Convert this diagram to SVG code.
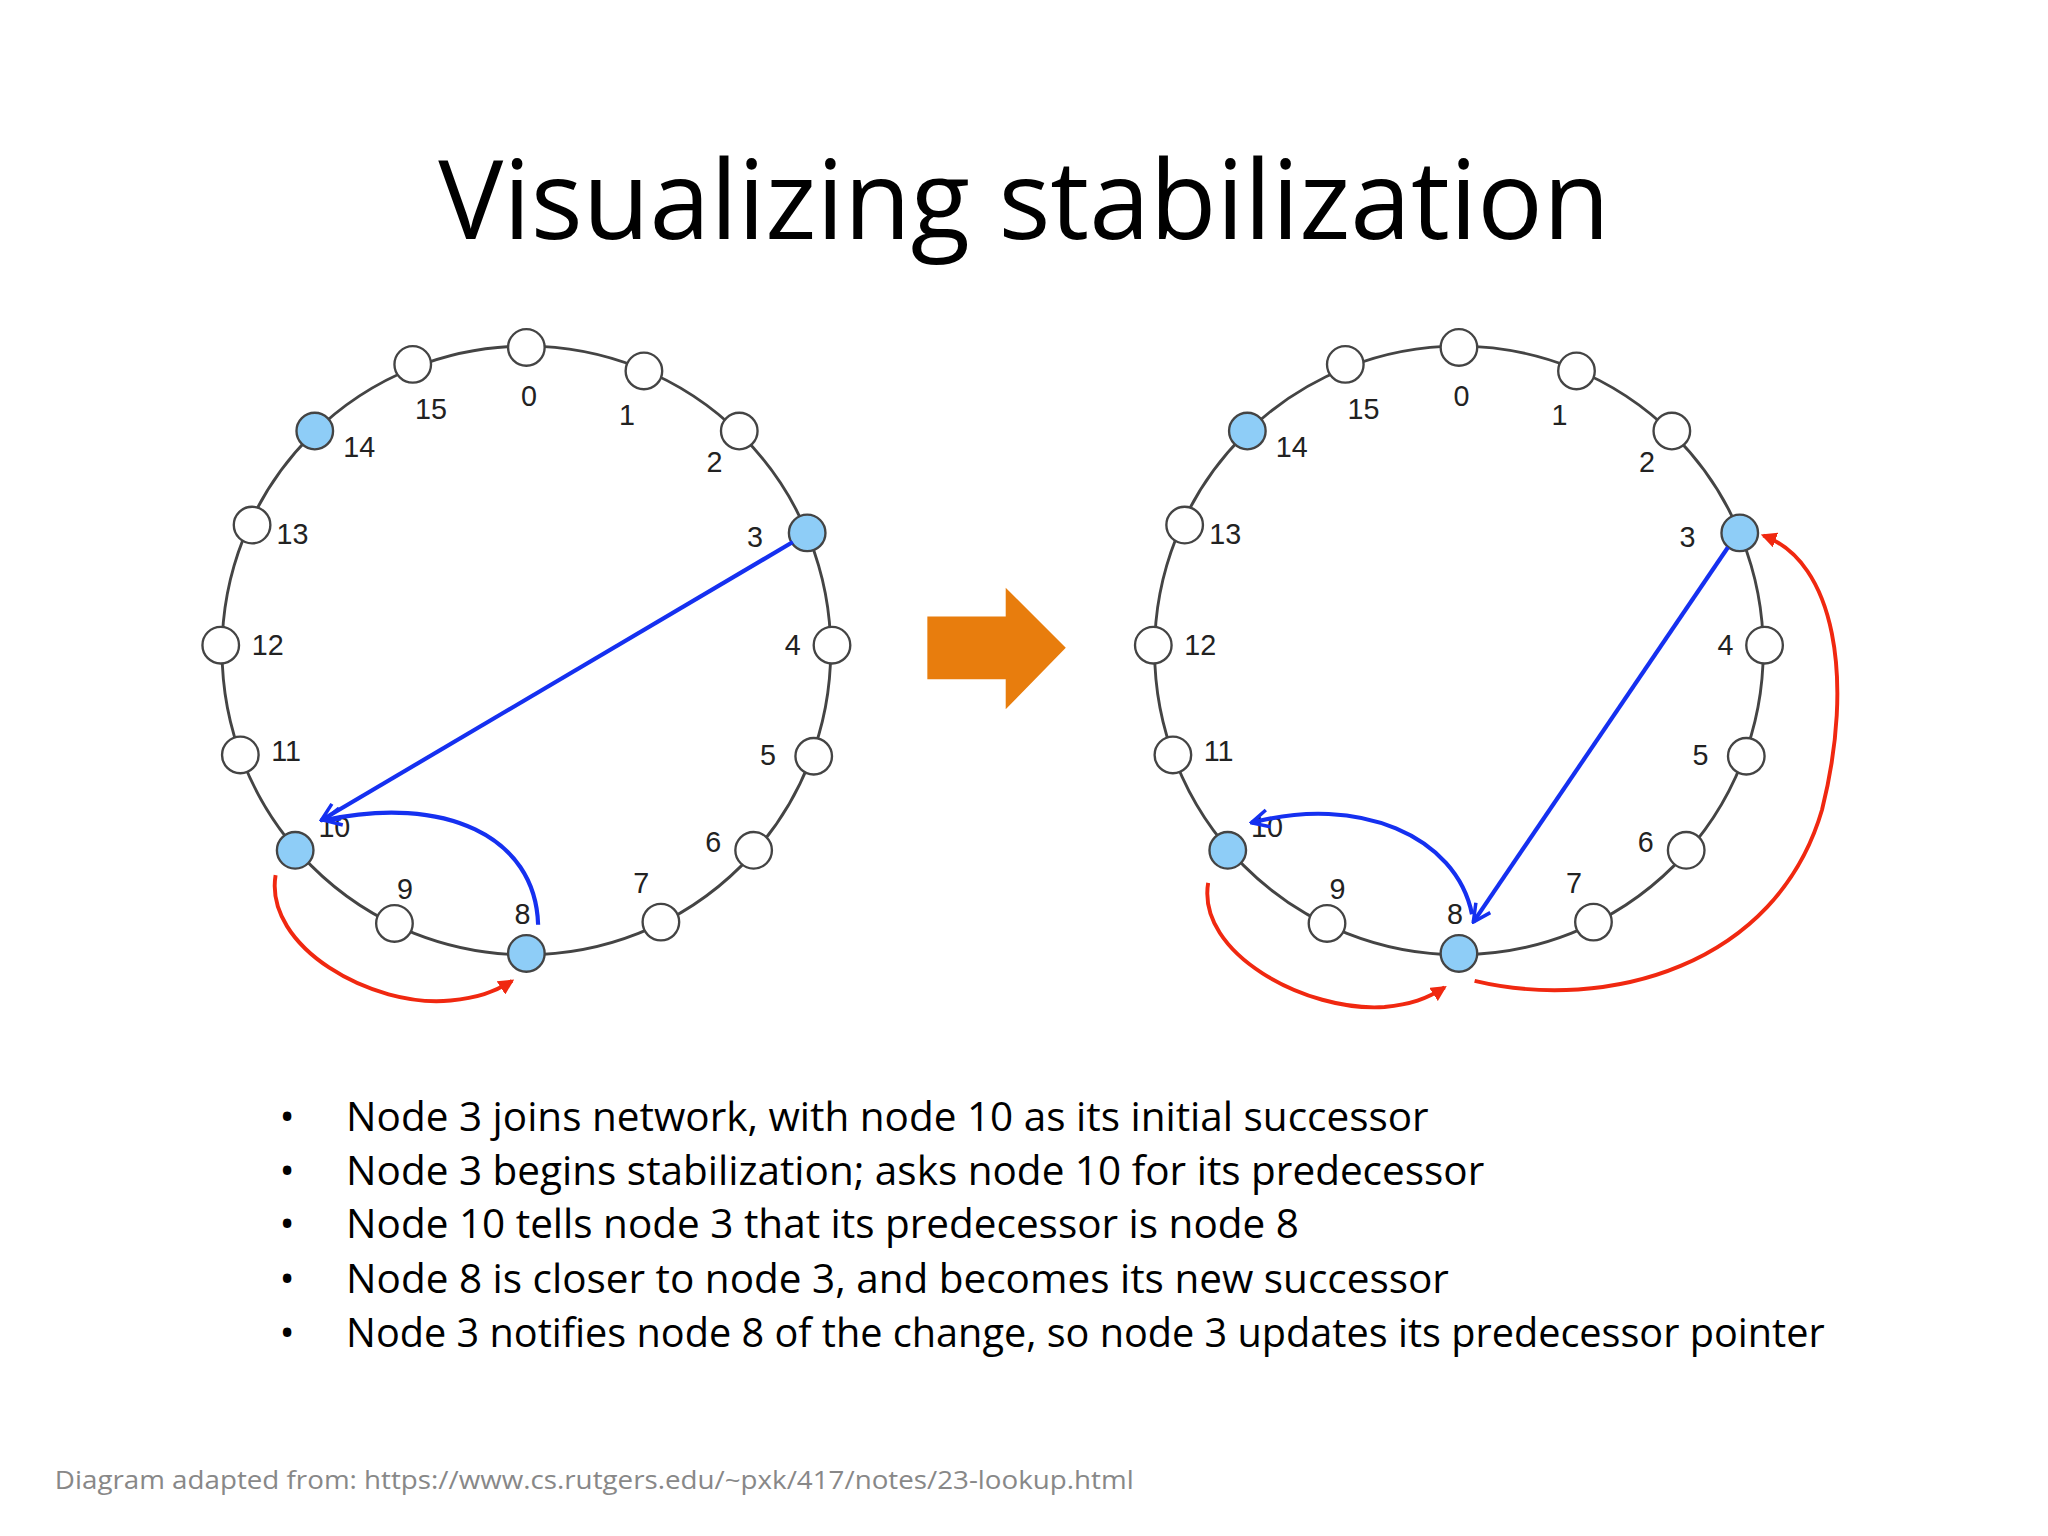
<svg xmlns="http://www.w3.org/2000/svg" width="2048" height="1536" viewBox="0 0 2048 1536">
<style>
.ring{fill:none;stroke:#444;stroke-width:2.2}
.n{fill:#fff;stroke:#444;stroke-width:1.8}
.b{fill:#8ecdf7;stroke:#444;stroke-width:1.8}
.l{font-family:"Liberation Sans",Arial,sans-serif;font-size:22px;fill:#222;text-anchor:middle;dominant-baseline:central}
.blue{fill:none;stroke:#1530f0;stroke-width:3.2}
.red{fill:none;stroke:#f02810;stroke-width:3}
.t{font-family:"Open Sans","Liberation Sans",sans-serif;fill:#000}
</style>
<defs>
<marker id="ob" viewBox="0 0 12 12" refX="11" refY="6" markerWidth="5" markerHeight="5" orient="auto" markerUnits="strokeWidth"><path d="M1,1 L11,6 L1,11" fill="none" stroke="#1530f0" stroke-width="2"/></marker>
<marker id="fr" viewBox="0 0 12 12" refX="10" refY="6" markerWidth="4" markerHeight="4" orient="auto" markerUnits="strokeWidth"><path d="M0,0 L12,6 L0,12 Z" fill="#f02810"/></marker>
</defs>
<rect width="2048" height="1536" fill="#fff"/>
<g transform="scale(1.30612)">
<text class="t" x="784" y="183" font-size="84" text-anchor="middle" textLength="897" lengthAdjust="spacingAndGlyphs">Visualizing stabilization</text>
<g id="left">
<circle class="ring" cx="403" cy="498" r="233"/>
<g id="L0"><circle class="n" cx="403" cy="266" r="14"/><text class="l" x="405" y="303">0</text></g>
<g id="L1"><circle class="n" cx="493" cy="284" r="14"/><text class="l" x="480" y="318">1</text></g>
<g id="L2"><circle class="n" cx="566" cy="330" r="14"/><text class="l" x="547" y="354">2</text></g>
<g id="L3"><circle class="b" cx="618" cy="408" r="14"/><text class="l" x="578" y="411">3</text></g>
<g id="L4"><circle class="n" cx="637" cy="494" r="14"/><text class="l" x="607" y="494">4</text></g>
<g id="L5"><circle class="n" cx="623" cy="579" r="14"/><text class="l" x="588" y="578">5</text></g>
<g id="L6"><circle class="n" cx="577" cy="651" r="14"/><text class="l" x="546" y="645">6</text></g>
<g id="L7"><circle class="n" cx="506" cy="706" r="14"/><text class="l" x="491" y="676">7</text></g>
<g id="L8"><circle class="b" cx="403" cy="730" r="14"/><text class="l" x="400" y="700">8</text></g>
<g id="L9"><circle class="n" cx="302" cy="707" r="14"/><text class="l" x="310" y="681">9</text></g>
<g id="L10"><circle class="b" cx="226" cy="651" r="14"/><text class="l" x="256" y="633">10</text></g>
<g id="L11"><circle class="n" cx="184" cy="578" r="14"/><text class="l" x="219" y="575">11</text></g>
<g id="L12"><circle class="n" cx="169" cy="494" r="14"/><text class="l" x="205" y="494">12</text></g>
<g id="L13"><circle class="n" cx="193" cy="402" r="14"/><text class="l" x="224" y="409">13</text></g>
<g id="L14"><circle class="b" cx="241" cy="330" r="14"/><text class="l" x="275" y="342">14</text></g>
<g id="L15"><circle class="n" cx="316" cy="279" r="14"/><text class="l" x="330" y="313">15</text></g>
</g>
<g id="right" transform="translate(714,0)">
<circle class="ring" cx="403" cy="498" r="233"/>
<g id="R0"><circle class="n" cx="403" cy="266" r="14"/><text class="l" x="405" y="303">0</text></g>
<g id="R1"><circle class="n" cx="493" cy="284" r="14"/><text class="l" x="480" y="318">1</text></g>
<g id="R2"><circle class="n" cx="566" cy="330" r="14"/><text class="l" x="547" y="354">2</text></g>
<g id="R3"><circle class="b" cx="618" cy="408" r="14"/><text class="l" x="578" y="411">3</text></g>
<g id="R4"><circle class="n" cx="637" cy="494" r="14"/><text class="l" x="607" y="494">4</text></g>
<g id="R5"><circle class="n" cx="623" cy="579" r="14"/><text class="l" x="588" y="578">5</text></g>
<g id="R6"><circle class="n" cx="577" cy="651" r="14"/><text class="l" x="546" y="645">6</text></g>
<g id="R7"><circle class="n" cx="506" cy="706" r="14"/><text class="l" x="491" y="676">7</text></g>
<g id="R8"><circle class="b" cx="403" cy="730" r="14"/><text class="l" x="400" y="700">8</text></g>
<g id="R9"><circle class="n" cx="302" cy="707" r="14"/><text class="l" x="310" y="681">9</text></g>
<g id="R10"><circle class="b" cx="226" cy="651" r="14"/><text class="l" x="256" y="633">10</text></g>
<g id="R11"><circle class="n" cx="184" cy="578" r="14"/><text class="l" x="219" y="575">11</text></g>
<g id="R12"><circle class="n" cx="169" cy="494" r="14"/><text class="l" x="205" y="494">12</text></g>
<g id="R13"><circle class="n" cx="193" cy="402" r="14"/><text class="l" x="224" y="409">13</text></g>
<g id="R14"><circle class="b" cx="241" cy="330" r="14"/><text class="l" x="275" y="342">14</text></g>
<g id="R15"><circle class="n" cx="316" cy="279" r="14"/><text class="l" x="330" y="313">15</text></g>
</g>
<g id="connectors">
<path class="blue" d="M607,415 L246,628" marker-end="url(#ob)"/>
<path class="blue" d="M412,708 C410,640 340,608 248,628" marker-end="url(#ob)"/>
<path class="red" d="M211,670 C202,725 285,772 345,766 C365,764 378,760 392,751" marker-end="url(#fr)"/>
<path class="blue" d="M1323,419 L1128,706" marker-end="url(#ob)"/>
<path class="blue" d="M1127,700 C1115,640 1040,608 958,630" marker-end="url(#ob)"/>
<path class="red" d="M925,676 C916,730 1000,775 1060,771 C1080,769 1092,765 1106,756" marker-end="url(#fr)"/>
<path class="red" d="M1129,751 C1230,775 1360,740 1395,620 C1420,520 1405,430 1350,410" marker-end="url(#fr)"/>
</g>
<g id="bigarrow"><path d="M710,472 L770,472 L770,450 L816,496 L770,543 L770,520 L710,520 Z" fill="#e87d0d"/></g>
<g class="t" font-size="31">
<text x="214" y="866">•</text><text x="265" y="866">Node 3 joins network, with node 10 as its initial successor</text>
<text x="214" y="907">•</text><text x="265" y="907">Node 3 begins stabilization; asks node 10 for its predecessor</text>
<text x="214" y="948">•</text><text x="265" y="948">Node 10 tells node 3 that its predecessor is node 8</text>
<text x="214" y="990">•</text><text x="265" y="990">Node 8 is closer to node 3, and becomes its new successor</text>
<text x="214" y="1031">•</text><text x="265" y="1031" textLength="1132" lengthAdjust="spacingAndGlyphs">Node 3 notifies node 8 of the change, so node 3 updates its predecessor pointer</text>
</g>
<text class="t" x="42" y="1140" font-size="20" fill="#888" style="fill:#888" textLength="826" lengthAdjust="spacingAndGlyphs">Diagram adapted from: https://www.cs.rutgers.edu/~pxk/417/notes/23-lookup.html</text>
</g>
</svg>
